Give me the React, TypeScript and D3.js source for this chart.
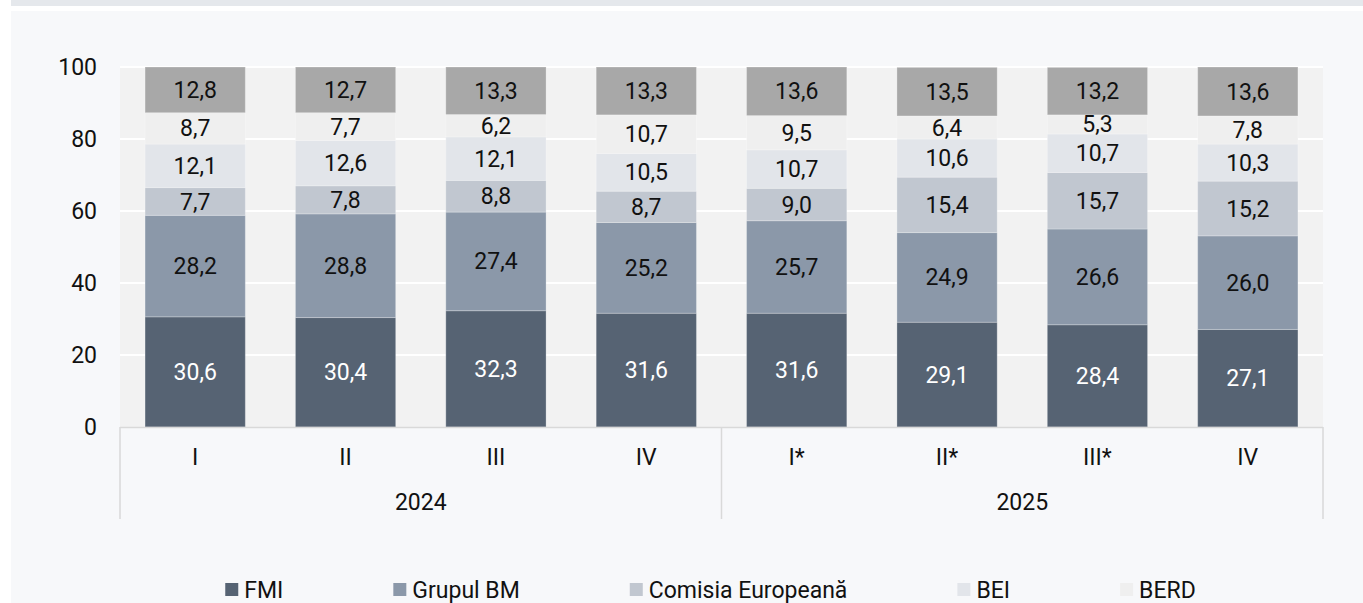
import { useEffect, useRef } from 'react';
import * as d3 from 'd3';

// quarters on the x axis (ids are unique, labels are what is shown)
const quarterIds = ['2024-I', '2024-II', '2024-III', '2024-IV', '2025-I', '2025-II', '2025-III', '2025-IV'];
const quarterLabels = ['I', 'II', 'III', 'IV', 'I*', 'II*', 'III*', 'IV'];
const years = ['2024', '2025'];

// stacked shares, in %
const fmi = [30.6, 30.4, 32.3, 31.6, 31.6, 29.1, 28.4, 27.1];
const grupulBM = [28.2, 28.8, 27.4, 25.2, 25.7, 24.9, 26.6, 26.0];
const comisiaEuropeana = [7.7, 7.8, 8.8, 8.7, 9.0, 15.4, 15.7, 15.2];
const bei = [12.1, 12.6, 12.1, 10.5, 10.7, 10.6, 10.7, 10.3];
const berd = [8.7, 7.7, 6.2, 10.7, 9.5, 6.4, 5.3, 7.8];
const altele = [12.8, 12.7, 13.3, 13.3, 13.6, 13.5, 13.2, 13.6];

const yTicks = [0, 20, 40, 60, 80, 100];

const series = [
  { name: 'FMI', values: fmi, color: '#566373', label: '#ffffff', legend: true },
  { name: 'Grupul BM', values: grupulBM, color: '#8b98a9', label: '#111111', legend: true },
  { name: 'Comisia Europeană', values: comisiaEuropeana, color: '#c1c7d0', label: '#111111', legend: true },
  { name: 'BEI', values: bei, color: '#e2e5ea', label: '#111111', legend: true },
  { name: 'BERD', values: berd, color: '#efefef', label: '#111111', legend: true },
  { name: 'Altele', values: altele, color: '#a8a8a8', label: '#111111', legend: false },
];

const W = 1363;
const H = 603;

export default function App() {
  const svgRef = useRef<SVGSVGElement | null>(null);

  useEffect(() => {
    if (!svgRef.current) return;
    const svg = d3.select(svgRef.current);
    svg.selectAll('*').remove();

    const font = 'Roboto, "Noto Sans", sans-serif';
    const fs = 23;

    // page chrome: thin top band + light panel
    svg.append('rect').attr('x', 0).attr('y', 0).attr('width', W).attr('height', H).attr('fill', '#ffffff');
    svg.append('rect').attr('x', 11).attr('y', 0).attr('width', W - 11).attr('height', 6).attr('fill', '#e5e8ec');
    svg.append('rect').attr('x', 11).attr('y', 11).attr('width', W - 11).attr('height', H - 11).attr('fill', '#f7f8fa');

    const plot = { left: 120, right: 1323, top: 67, bottom: 427 };

    const x = d3.scaleBand<string>()
      .domain(quarterIds)
      .range([plot.left, plot.right])
      .paddingInner(1 / 3)
      .paddingOuter(1 / 6);

    const y = d3.scaleLinear().domain([0, 100]).range([plot.bottom, plot.top]);

    // plot background + gridlines
    svg.append('rect')
      .attr('x', plot.left).attr('y', plot.top)
      .attr('width', plot.right - plot.left).attr('height', plot.bottom - plot.top)
      .attr('fill', '#f2f2f2');

    svg.append('g')
      .selectAll('line')
      .data(yTicks.filter(t => t > 0))
      .join('line')
      .attr('x1', plot.left).attr('x2', plot.right)
      .attr('y1', d => y(d)).attr('y2', d => y(d))
      .attr('stroke', '#ffffff').attr('stroke-width', 2);

    // y tick labels
    svg.append('g')
      .selectAll('text')
      .data(yTicks)
      .join('text')
      .attr('x', 97)
      .attr('y', d => y(d))
      .attr('dy', '0.35em')
      .attr('text-anchor', 'end')
      .attr('font-family', font)
      .attr('font-size', fs)
      .attr('fill', '#111111')
      .text(d => d);

    // stack the series
    const rows = quarterIds.map((id, i) => {
      const r: Record<string, any> = { id };
      series.forEach(s => { r[s.name] = s.values[i]; });
      return r;
    });
    const stacked = d3.stack<any>().keys(series.map(s => s.name))(rows);

    const layers = svg.append('g')
      .selectAll('g')
      .data(stacked)
      .join('g')
      .attr('fill', (d, i) => series[i].color);

    layers.selectAll('rect')
      .data(d => d)
      .join('rect')
      .attr('x', d => x(d.data.id)!)
      .attr('width', x.bandwidth())
      .attr('y', d => y(Math.min(d[1], 100)))
      .attr('height', d => y(d[0]) - y(Math.min(d[1], 100)))
      .attr('stroke', '#ffffff')
      .attr('stroke-opacity', 0.25)
      .attr('stroke-width', 1);

    // value labels in the middle of each segment
    stacked.forEach((layer, i) => {
      svg.append('g')
        .selectAll('text')
        .data(layer)
        .join('text')
        .attr('x', d => x(d.data.id)! + x.bandwidth() / 2)
        .attr('y', d => y((d[0] + Math.min(d[1], 100)) / 2))
        .attr('dy', '0.35em')
        .attr('text-anchor', 'middle')
        .attr('font-family', font)
        .attr('font-size', fs)
        .attr('fill', series[i].label)
        .text(d => d3.format('.1f')(d[1] - d[0]).replace('.', ','));
    });

    // category axis (two levels)
    const axisColor = '#d9d9d9';
    const axisBottom = 519;
    svg.append('line')
      .attr('x1', plot.left).attr('x2', plot.right)
      .attr('y1', plot.bottom + 0.5).attr('y2', plot.bottom + 0.5)
      .attr('stroke', axisColor).attr('stroke-width', 1.5);

    const dividers = [plot.left, (plot.left + plot.right) / 2, plot.right];
    svg.append('g')
      .selectAll('line')
      .data(dividers)
      .join('line')
      .attr('x1', d => d).attr('x2', d => d)
      .attr('y1', plot.bottom).attr('y2', axisBottom)
      .attr('stroke', axisColor).attr('stroke-width', 1.5);

    svg.append('g')
      .selectAll('text')
      .data(quarterIds)
      .join('text')
      .attr('x', d => x(d)! + x.bandwidth() / 2)
      .attr('y', 456.5)
      .attr('dy', '0.35em')
      .attr('text-anchor', 'middle')
      .attr('font-family', font)
      .attr('font-size', fs)
      .attr('fill', '#111111')
      .text((d, i) => quarterLabels[i]);

    svg.append('g')
      .selectAll('text')
      .data(years)
      .join('text')
      .attr('x', (d, i) => (dividers[i] + dividers[i + 1]) / 2)
      .attr('y', 502)
      .attr('dy', '0.35em')
      .attr('text-anchor', 'middle')
      .attr('font-family', font)
      .attr('font-size', fs)
      .attr('fill', '#111111')
      .text(d => d);

    // legend, laid out from measured text widths and centred
    const legendItems = series.filter(s => s.legend);
    const legend = svg.append('g');
    const box = 13, boxGap = 6, itemGap = 110;
    let cursor = 0;
    legendItems.forEach(s => {
      const g = legend.append('g').attr('transform', `translate(${cursor},0)`);
      g.append('rect')
        .attr('x', 0).attr('y', -box / 2)
        .attr('width', box).attr('height', box)
        .attr('fill', s.color);
      const t = g.append('text')
        .attr('x', box + boxGap)
        .attr('dy', '0.35em')
        .attr('font-family', font)
        .attr('font-size', fs)
        .attr('fill', '#111111')
        .text(s.name);
      const tw = (t.node() as SVGTextElement).getComputedTextLength();
      cursor += box + boxGap + tw + itemGap;
    });
    const legendWidth = cursor - itemGap;
    legend.attr('transform', `translate(${710.5 - legendWidth / 2},589.5)`);
  }, []);

  return (
    <svg
      ref={svgRef}
      width={W}
      height={H}
      style={{ position: 'absolute', left: 0, top: 0, display: 'block' }}
    />
  );
}
